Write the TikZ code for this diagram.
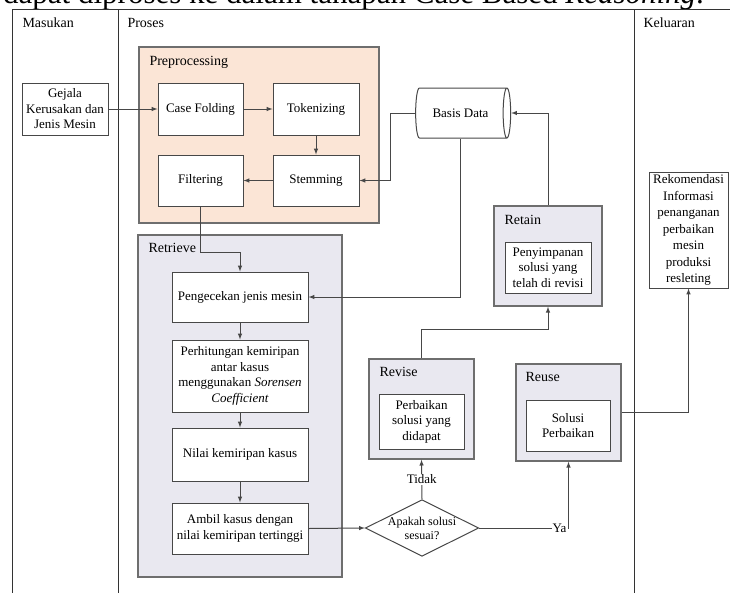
\documentclass[tikz,border=0pt]{standalone}
\usepackage{fontspec}
\setmainfont{Liberation Serif}
\usepackage{xcolor}
\usetikzlibrary{shapes.geometric}
\definecolor{prepfill}{HTML}{FBE5D6}
\definecolor{grpfill}{HTML}{E9E8F0}
\definecolor{linegray}{HTML}{474747}
\definecolor{grpedge}{HTML}{6E6E6E}

\begin{document}
\begin{tikzpicture}
[x=1pt,y=-1pt,>=latex,
lane/.style={draw=black!80,line width=1pt},
head/.style={anchor=west,font=\fontsize{14}{16}\selectfont},
grplbl/.style={anchor=west,font=\fontsize{14}{16}\selectfont},
prepgrp/.style={rectangle,draw=grpedge,fill=prepfill,line width=1.4pt,inner sep=0pt},
grp/.style={rectangle,draw=grpedge,fill=grpfill,line width=1.4pt,inner sep=0pt},
proc/.style={rectangle,draw=linegray,fill=white,line width=1pt,align=center,inner sep=1pt,
  font=\fontsize{13}{15.5}\selectfont},
decis/.style={diamond,draw=linegray,fill=white,line width=1pt,aspect=2,inner sep=0pt,align=center,
  font=\fontsize{12}{14}\selectfont},
store/.style={cylinder,draw=linegray,fill=white,line width=1pt,aspect=0.7,inner sep=1pt,
  font=\fontsize{13}{15.5}\selectfont},
conn/.style={->,draw=linegray,line width=1pt},
tag/.style={fill=white,inner sep=1pt,font=\fontsize{13}{15}\selectfont}]
\useasboundingbox (0,0) rectangle (730,592);
\clip (0,0) rectangle (730,592);

\node at (3,3) [anchor=base west,inner sep=0pt,font=\fontsize{31}{33}\selectfont] (prevline)
  {dapat diproses ke dalam tahapan Case Based \textit{Reasoning}.};

\draw [lane] (12,600) -- (12,9) -- (745,9);
\draw [lane] (118,9) -- (118,600);
\draw [lane] (634,9) -- (634,600);
\node at (19,23)  [head] (masukan)  {Masukan};
\node at (124,23) [head] (proses)   {Proses};
\node at (640,23) [head] (keluaran) {Keluaran};

\node at (65,109) [proc,minimum width=86pt,minimum height=52pt] (gejala)
  {Gejala\\Kerusakan dan\\Jenis Mesin};

\node at (259,135) [prepgrp,minimum width=240pt,minimum height=176pt] (prep) {};
\node at (146,62) [grplbl] (preplbl) {Preprocessing};
\node at (200.5,109) [proc,minimum width=85pt,minimum height=52pt] (casef)  {Case Folding};
\node at (316,109)   [proc,minimum width=86pt,minimum height=52pt] (token)  {Tokenizing};
\node at (316,180.5) [proc,minimum width=86pt,minimum height=51pt] (stem)   {Stemming};
\node at (200.5,180.5) [proc,minimum width=85pt,minimum height=51pt] (filter) {Filtering};

\node at (460.5,113) [store,minimum width=50pt,minimum height=95pt] (basis) {Basis Data};

\node at (240,406) [grp,minimum width=204pt,minimum height=342pt] (retrieve) {};
\node at (145,248) [grplbl] (retrievelbl) {Retrieve};
\node at (240,297)   [proc,minimum width=136pt,minimum height=50pt] (cek)    {Pengecekan jenis mesin};
\node at (240,376)   [proc,minimum width=136pt,minimum height=72pt] (hitung)
  {Perhitungan kemiripan\\antar kasus\\menggunakan \textit{Sorensen}\\\textit{Coefficient}};
\node at (240,454.5) [proc,minimum width=136pt,minimum height=53pt] (nilai)  {Nilai kemiripan kasus};
\node at (240,528.5) [proc,minimum width=136pt,minimum height=51pt] (ambil)
  {Ambil kasus dengan\\nilai kemiripan tertinggi};

\node at (422,528) [decis] (dia) {Apakah solusi\\sesuai?};

\node at (421.5,409) [grp,minimum width=105pt,minimum height=100pt] (revise) {};
\node at (376,372) [grplbl] (reviselbl) {Revise};
\node at (421.5,421.5) [proc,minimum width=85pt,minimum height=55pt] (revisein)
  {Perbaikan\\solusi yang\\didapat};

\node at (568.5,412.5) [grp,minimum width=105pt,minimum height=97pt] (reuse) {};
\node at (522,377) [grplbl] (reuselbl) {Reuse};
\node at (568,425.5) [proc,minimum width=84pt,minimum height=51pt] (reusein)
  {Solusi\\Perbaikan};

\node at (548,256) [grp,minimum width=108pt,minimum height=100pt] (retain) {};
\node at (501,220) [grplbl] (retainlbl) {Retain};
\node at (548,267.5) [proc,minimum width=86pt,minimum height=51pt] (retainin)
  {Penyimpanan\\solusi yang\\telah di revisi};

\node at (688.5,230) [proc,minimum width=79pt,minimum height=116pt,font=\fontsize{13}{16.5}\selectfont] (rekom)
  {Rekomendasi\\Informasi\\penanganan\\perbaikan\\mesin\\produksi\\resleting};

\draw [conn] (gejala.east) to (casef.west);
\draw [conn] (casef.east) to (token.west);
\draw [conn] (token.south) to (stem.north);
\draw [conn] (stem.west) to (filter.east);
\draw [conn] (basis.west) -- ++(-25,0) |- (stem.east);
\draw [conn] (filter.south) -- ++(0,46) -| (cek.north);
\draw [conn] (basis.south) |- (cek.east);
\draw [conn] (cek.south) to (hitung.north);
\draw [conn] (hitung.south) to (nilai.north);
\draw [conn] (nilai.south) to (ambil.north);
\draw [conn] (ambil.east) to (dia.west);
\draw [conn] (dia.north) -- node[tag] (tidak) {Tidak} (revise.south);
\draw [conn] (dia.east) -| node[tag,pos=0.45] (ya) {Ya} (reuse.south);
\draw [conn] (revise.north) -- ++(0,-29) -| (retain.south);
\draw [conn] (retain.north) |- (basis.east);
\draw [conn] (reuse.east) -| (rekom.south);
\end{tikzpicture}
\end{document}
